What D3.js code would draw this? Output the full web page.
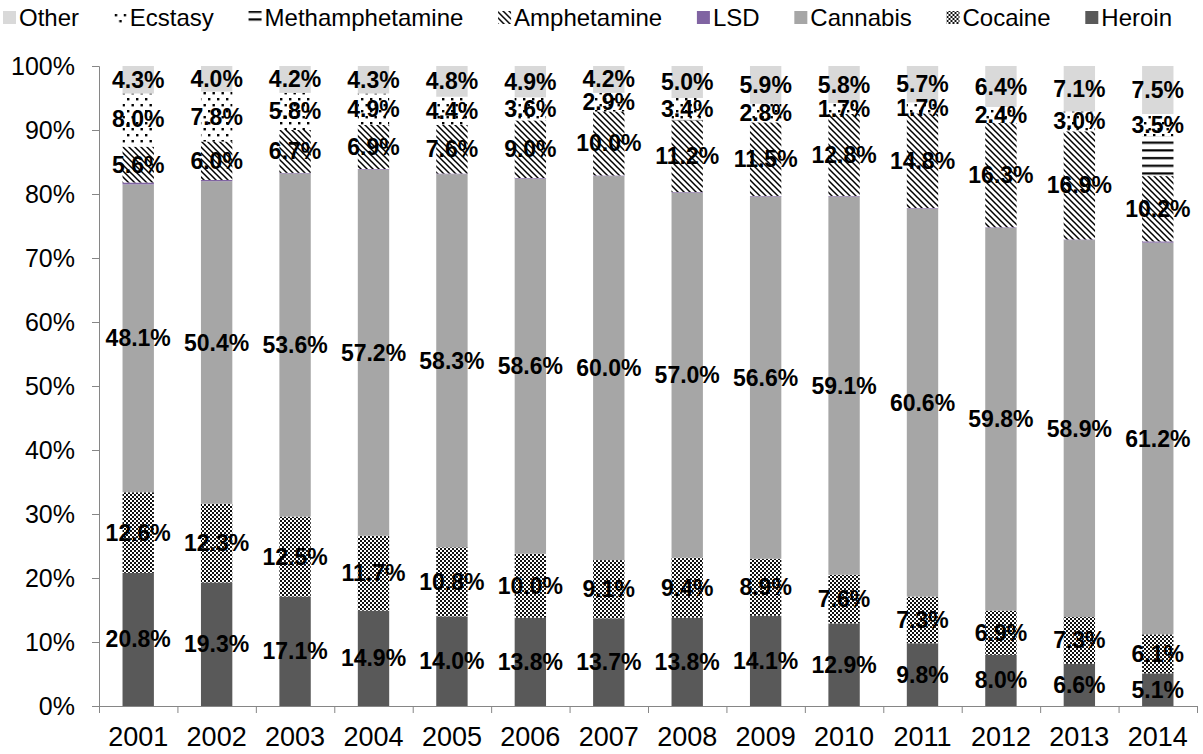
<!DOCTYPE html>
<html>
<head>
<meta charset="utf-8">
<script src="https://cdn.jsdelivr.net/npm/d3@7"></script>
<style>
  body { margin: 0; background: #fff; }
  svg { font-family: Arial, "Liberation Sans", sans-serif; }
</style>
</head>
<body>
<svg width="1203" height="754"></svg>
<script>
var years = ["2001","2002","2003","2004","2005","2006","2007","2008","2009","2010","2011","2012","2013","2014"];

// stack order, bottom to top
var heroin  = [20.8, 19.3, 17.1, 14.9, 14.0, 13.8, 13.7, 13.8, 14.1, 12.9, 9.8, 8.0, 6.6, 5.1];
var cocaine = [12.6, 12.3, 12.5, 11.7, 10.8, 10.0, 9.1, 9.4, 8.9, 7.6, 7.3, 6.9, 7.3, 6.1];
var cannabis = [48.1, 50.4, 53.6, 57.2, 58.3, 58.6, 60.0, 57.0, 56.6, 59.1, 60.6, 59.8, 58.9, 61.2];
var lsd     = [0.3, 0.2, 0.1, 0.1, 0.1, 0.1, 0.1, 0.1, 0.1, 0.1, 0.1, 0.1, 0.1, 0.2];
var amph    = [5.6, 6.0, 6.7, 6.9, 7.6, 9.0, 10.0, 11.2, 11.5, 12.8, 14.8, 16.3, 16.9, 10.2];
var meth    = [0.3, 0.0, 0.0, 0.0, 0.0, 0.0, 0.0, 0.1, 0.1, 0.0, 0.0, 0.1, 0.1, 6.2];
var ecstasy = [8.0, 7.8, 5.8, 4.9, 4.4, 3.6, 2.9, 3.4, 2.8, 1.7, 1.7, 2.4, 3.0, 3.5];
var other   = [4.3, 4.0, 4.2, 4.3, 4.8, 4.9, 4.2, 5.0, 5.9, 5.8, 5.7, 6.4, 7.1, 7.5];

var series = [
  {name: "Heroin", values: heroin, fill: "#595959", label: true},
  {name: "Cocaine", values: cocaine, fill: "url(#pCocaine)", label: true},
  {name: "Cannabis", values: cannabis, fill: "#a6a6a6", label: true},
  {name: "LSD", values: lsd, fill: "#8064a2", label: false},
  {name: "Amphetamine", values: amph, fill: "url(#pAmph)", label: true},
  {name: "Methamphetamine", values: meth, fill: "url(#pMeth)", label: false},
  {name: "Ecstasy", values: ecstasy, fill: "url(#pEcstasy)", label: true},
  {name: "Other", values: other, fill: "#d9d9d9", label: true}
];

var svg = d3.select("svg");
var plotLeft = 99, plotRight = 1197, plotTop = 66, plotBottom = 706;

// patterns
var defs = svg.append("defs");
var p = defs.append("pattern").attr("id", "pCocaine").attr("patternUnits", "userSpaceOnUse")
    .attr("width", 4).attr("height", 4);
p.append("rect").attr("width", 4).attr("height", 4).attr("fill", "#fff");
p.append("rect").attr("width", 2).attr("height", 2).attr("fill", "#111");
p.append("rect").attr("x", 2).attr("y", 2).attr("width", 2).attr("height", 2).attr("fill", "#111");

p = defs.append("pattern").attr("id", "pAmph").attr("patternUnits", "userSpaceOnUse")
    .attr("width", 6).attr("height", 6);
p.append("rect").attr("width", 6).attr("height", 6).attr("fill", "#fff");
p.append("path").attr("d", "M-1,-1L7,7M-2,4L2,8M4,-2L8,2")
  .attr("stroke", "#000").attr("stroke-width", 1.5);

p = defs.append("pattern").attr("id", "pMeth").attr("patternUnits", "userSpaceOnUse")
    .attr("width", 8).attr("height", 7.7);
p.append("rect").attr("width", 8).attr("height", 7.7).attr("fill", "#fff");
p.append("rect").attr("y", 3).attr("width", 8).attr("height", 2.2).attr("fill", "#000");

p = defs.append("pattern").attr("id", "pEcstasy").attr("patternUnits", "userSpaceOnUse")
    .attr("width", 9).attr("height", 12);
p.append("rect").attr("width", 9).attr("height", 12).attr("fill", "#fff");
p.append("rect").attr("x", 1).attr("y", 2).attr("width", 2.4).attr("height", 2.4).attr("fill", "#000");
p.append("rect").attr("x", 5.5).attr("y", 8).attr("width", 2.4).attr("height", 2.4).attr("fill", "#000");

// scales
var x = d3.scaleBand().domain(years).range([plotLeft, plotRight]).paddingInner(0.6).paddingOuter(0.3);
var xEdge = d3.scaleLinear().domain([0, years.length]).range([plotLeft, plotRight]);
var y = d3.scaleLinear().domain([0, 100]).range([plotBottom, plotTop]);

// stack data
var rows = years.map(function(yr, i) {
  var r = {year: yr};
  series.forEach(function(s) { r[s.name] = s.values[i]; });
  return r;
});
var stacked = d3.stack().keys(series.map(function(s) { return s.name; }))
  .offset(d3.stackOffsetExpand)(rows);

var layer = svg.selectAll(".layer").data(stacked).enter().append("g")
  .attr("class", "layer")
  .attr("fill", function(d, i) { return series[i].fill; });

layer.selectAll("rect").data(function(d) { return d; }).enter().append("rect")
  .attr("x", function(d) { return x(d.data.year); })
  .attr("width", x.bandwidth())
  .attr("y", function(d) { return y(d[1] * 100); })
  .attr("height", function(d) { return y(d[0] * 100) - y(d[1] * 100); });

// axes
var yAxis = svg.append("g").attr("transform", "translate(" + plotLeft + ",0)")
  .call(d3.axisLeft(y).tickValues(d3.range(0, 101, 10)).tickSize(7).tickPadding(17)
    .tickFormat(function(d) { return d + "%"; }));
yAxis.select(".domain").attr("stroke", "#868686");
yAxis.selectAll(".tick line").attr("stroke", "#868686");
yAxis.selectAll("text").attr("font-size", 25).attr("fill", "#000").attr("font-family", null);

var xAxis = svg.append("g").attr("transform", "translate(0," + plotBottom + ")")
  .call(d3.axisBottom(xEdge).tickValues(d3.range(0, years.length + 1)).tickSize(7).tickSizeOuter(0)
    .tickFormat(""));
xAxis.select(".domain").attr("stroke", "#868686");
xAxis.selectAll(".tick line").attr("stroke", "#868686");

svg.append("g").selectAll("text").data(years).enter().append("text")
  .attr("x", function(d) { return x(d) + x.bandwidth() / 2; })
  .attr("y", plotBottom + 40)
  .attr("text-anchor", "middle")
  .attr("font-size", 27)
  .text(function(d) { return d; });

// data labels
var labels = svg.append("g");
stacked.forEach(function(d, i) {
  if (!series[i].label) return;
  labels.append("g").selectAll("text").data(d).enter().append("text")
    .attr("x", function(e) { return x(e.data.year) + x.bandwidth() / 2; })
    .attr("y", function(e) { return y((e[0] + e[1]) / 2 * 100); })
    .attr("dy", "0.35em")
    .attr("text-anchor", "middle")
    .attr("font-size", 23)
    .attr("font-weight", "bold")
    .attr("fill", "#000")
    .text(function(e, j) { return series[i].values[j].toFixed(1) + "%"; });
});

// legend, reversed order, spread across the top
var legendItems = series.slice().reverse();
var legend = svg.append("g");
var items = legend.selectAll("g").data(legendItems).enter().append("g");
items.append("rect").attr("width", 13).attr("height", 13).attr("y", 11)
  .attr("fill", function(d) { return d.fill; });
items.append("text").attr("x", 16).attr("y", 18).attr("dy", "0.35em")
  .attr("font-size", 24).text(function(d) { return d.name; });
var widths = [];
items.each(function() { widths.push(this.getBBox().width); });
var gap = (1172 - 3 - d3.sum(widths)) / (widths.length - 1);
var pos = 3;
items.attr("transform", function(d, i) {
  var t = "translate(" + pos + ",0)";
  pos += widths[i] + gap;
  return t;
});
</script>
</body>
</html>
